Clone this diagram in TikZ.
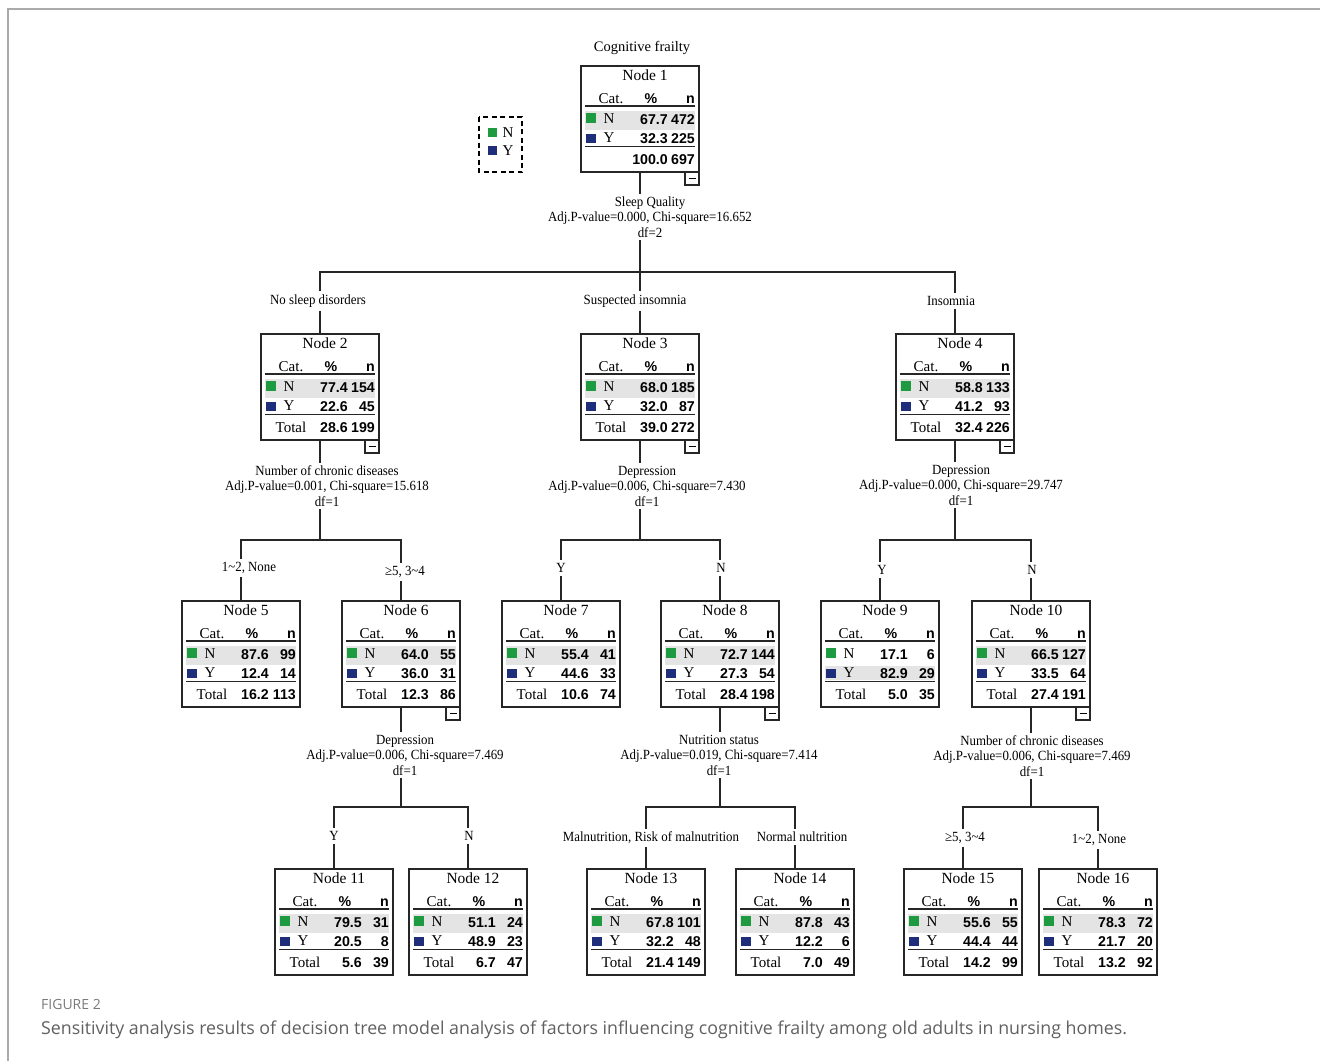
\documentclass[tikz,border=0pt]{standalone}
\usepackage{fontspec}
\setmainfont{Liberation Serif}
\newfontfamily\numfont{Liberation Sans}
\newfontfamily\labfont[FakeStretch=0.92]{Liberation Serif}
\newfontfamily\capfont{Open Sans}
\definecolor{catN}{HTML}{1E9A40}
\definecolor{catY}{HTML}{1F2E7A}
\definecolor{band}{HTML}{E4E4E4}
\definecolor{capgray}{HTML}{606060}
\definecolor{figgray}{HTML}{7A7A7A}
\definecolor{framegray}{HTML}{AAAAAA}
\newif\ifshY
\newif\ifhasminus
\def\totlab{Total}
\newcommand\tnode[9]{%
  \node[tbox] (n#1) at (#2,#3) {};
  \begin{scope}[shift={(#2,#3)}]
    \ifshY \fill[band] (4,64.5) rectangle (114,79);
    \else \fill[band] (4,45) rectangle (114,64); \fi
    \node[ttl] (n#1t) at (64,14) {Node #1};
    \node[ser, anchor=base] (n#1hc) at (30,37) {Cat.};
    \node[num, anchor=base] (n#1hp) at (70,37) {\%};
    \node[num, anchor=base east] (n#1hn) at (114,37) {n};
    \draw[rule] (4,40) -- (114,40);
    \fill[catN] (5,47) rectangle (15,57);
    \fill[catY] (5,67.5) rectangle (15,77);
    \node[ser, anchor=base] (n#1cN) at (28,57) {N};
    \node[num, anchor=base east] (n#1pN) at (87,58.5) {#4};
    \node[num, anchor=base east] (n#1nN) at (114,58.5) {#5};
    \node[ser, anchor=base] (n#1cY) at (28,76.5) {Y};
    \node[num, anchor=base east] (n#1pY) at (87,77.5) {#6};
    \node[num, anchor=base east] (n#1nY) at (114,77.5) {#7};
    \draw[rule] (4,80.5) -- (114,80.5);
    \node[ser, anchor=base] (n#1tl) at (30,98) {\totlab};
    \node[num, anchor=base east] (n#1tp) at (87,98.5) {#8};
    \node[num, anchor=base east] (n#1tn) at (114,98.5) {#9};
    \ifhasminus
      \draw[minusbox] (104,106) rectangle (118,119);
      \draw[line width=1pt] (107.5,112.5) -- (114.5,112.5);
    \fi
  \end{scope}}
\begin{document}
\begin{tikzpicture}[x=1pt,y=-1pt,
  tbox/.style={draw=black!85, line width=1.4pt, anchor=north west, minimum width=118pt, minimum height=106pt, inner sep=0pt, outer sep=0pt},
  ser/.style={font=\fontsize{15}{15}\selectfont, inner sep=0pt},
  ttl/.style={font=\fontsize{15.5}{15.5}\selectfont, inner sep=0pt, anchor=base},
  num/.style={font=\numfont\bfseries\fontsize{14.2}{14.2}\selectfont, inner sep=0pt},
  rule/.style={line width=1.2pt, black!85},
  minusbox/.style={line width=1.1pt, black!85},
  lab/.style={font=\labfont\fontsize{14}{15.5}\selectfont, align=center, inner sep=2.5pt},
  blab/.style={font=\labfont\fontsize{14}{14}\selectfont, inner sep=3pt},
  edge/.style={line width=1.2pt, black!85},
]
\useasboundingbox (0,0) rectangle (1320,1061);
\draw[framegray, line width=2pt] (8,1061) -- (8,9) -- (1320,9);

% title and legend
\node[font=\fontsize{14.5}{14.5}\selectfont, inner sep=0pt] (title) at (642,48) {Cognitive frailty};
\draw[dash pattern=on 5pt off 3.5pt, line width=1.1pt] (479,117) rectangle (522,172);
\fill[catN] (487.5,128) rectangle (496.5,137);
\fill[catY] (487.5,146) rectangle (496.5,155);
\node[ser] (legN) at (508,132.5) {N};
\node[ser] (legY) at (508,150.5) {Y};

% tree nodes
\def\totlab{}\hasminustrue\shYfalse
\tnode{1}{581}{66}{67.7}{472}{32.3}{225}{100.0}{697}
\def\totlab{Total}
\tnode{2}{261}{334}{77.4}{154}{22.6}{45}{28.6}{199}
\tnode{3}{581}{334}{68.0}{185}{32.0}{87}{39.0}{272}
\tnode{4}{896}{334}{58.8}{133}{41.2}{93}{32.4}{226}
\hasminusfalse
\tnode{5}{182}{601}{87.6}{99}{12.4}{14}{16.2}{113}
\hasminustrue
\tnode{6}{342}{601}{64.0}{55}{36.0}{31}{12.3}{86}
\hasminusfalse
\tnode{7}{502}{601}{55.4}{41}{44.6}{33}{10.6}{74}
\hasminustrue
\tnode{8}{661}{601}{72.7}{144}{27.3}{54}{28.4}{198}
\hasminusfalse\shYtrue
\tnode{9}{821}{601}{17.1}{6}{82.9}{29}{5.0}{35}
\shYfalse\hasminustrue
\tnode{10}{972}{601}{66.5}{127}{33.5}{64}{27.4}{191}
\hasminusfalse
\tnode{11}{275}{869}{79.5}{31}{20.5}{8}{5.6}{39}
\tnode{12}{409}{869}{51.1}{24}{48.9}{23}{6.7}{47}
\tnode{13}{587}{869}{67.8}{101}{32.2}{48}{21.4}{149}
\tnode{14}{736}{869}{87.8}{43}{12.2}{6}{7.0}{49}
\tnode{15}{904}{869}{55.6}{55}{44.4}{44}{14.2}{99}
\tnode{16}{1039}{869}{78.3}{72}{21.7}{20}{13.2}{92}

% split labels
\node[lab] (s1) at (650,217) {Sleep Quality\\Adj.P-value=0.000, Chi-square=16.652\\df=2};
\node[lab] (s2) at (327,486) {Number of chronic diseases\\Adj.P-value=0.001, Chi-square=15.618\\df=1};
\node[lab] (s3) at (647,486) {Depression\\Adj.P-value=0.006, Chi-square=7.430\\df=1};
\node[lab] (s4) at (961,485) {Depression\\Adj.P-value=0.000, Chi-square=29.747\\df=1};
\node[lab] (s6) at (405,755) {Depression\\Adj.P-value=0.006, Chi-square=7.469\\df=1};
\node[lab] (s8) at (719,755) {Nutrition status\\Adj.P-value=0.019, Chi-square=7.414\\df=1};
\node[lab] (s10) at (1032,756) {Number of chronic diseases\\Adj.P-value=0.006, Chi-square=7.469\\df=1};

% branch labels
\node[blab] (b2) at (318,301) {No sleep disorders};
\node[blab] (b3) at (635,301) {Suspected insomnia};
\node[blab] (b4) at (951,301) {Insomnia};
\node[blab] (b5) at (249,568) {1\textasciitilde 2, None};
\node[blab] (b6) at (405,572) {≥5, 3\textasciitilde 4};
\node[blab] (b7) at (561,568) {Y};
\node[blab] (b8) at (721,568) {N};
\node[blab] (b9) at (882,570) {Y};
\node[blab] (b10) at (1032,570) {N};
\node[blab] (b11) at (334,836) {Y};
\node[blab] (b12) at (469,836) {N};
\node[blab] (b13) at (651,838) {Malnutrition, Risk of malnutrition};
\node[blab] (b14) at (802,837) {Normal nultrition};
\node[blab] (b15) at (965,838) {≥5, 3\textasciitilde 4};
\node[blab] (b16) at (1099,840) {1\textasciitilde 2, None};

% joints
\coordinate (j1) at (640,272);
\coordinate (j2) at (320,540);
\coordinate (j3) at (640,540);
\coordinate (j4) at (955,540);
\coordinate (j6) at (401,807);
\coordinate (j8) at (720,807);
\coordinate (j10) at (1031,807);

% connectors: parent -> split label -> joint
\foreach \p in {1,2,3,4,6,8,10}{
  \draw[edge] (n\p.south) -- (n\p.south |- s\p.north);
  \draw[edge] (n\p.south |- s\p.south) -- (j\p);
}
% bars
\draw[edge] (n2.north |- b2.north) |- (j1) -| (n4.north |- b4.north);
\draw[edge] (j1) -- (n3.north |- b3.north);
\draw[edge] (n5.north |- b5.north) |- (j2) -| (n6.north |- b6.north);
\draw[edge] (n7.north |- b7.north) |- (j3) -| (n8.north |- b8.north);
\draw[edge] (n9.north |- b9.north) |- (j4) -| (n10.north |- b10.north);
\draw[edge] (n11.north |- b11.north) |- (j6) -| (n12.north |- b12.north);
\draw[edge] (n13.north |- b13.north) |- (j8) -| (n14.north |- b14.north);
\draw[edge] (n15.north |- b15.north) |- (j10) -| (n16.north |- b16.north);
% branch label -> child
\foreach \c in {2,3,4,5,6,7,8,9,10,11,12,13,14,15,16}{
  \draw[edge] (n\c.north |- b\c.south) -- (n\c.north);
}

% caption
\node[anchor=base west, inner sep=0pt, font=\capfont\fontsize{14}{14}\selectfont, text=figgray] (figlab) at (41,1009) {FIGURE 2};
\node[anchor=base west, inner sep=0pt, font=\capfont\fontsize{17.8}{17.8}\selectfont, text=capgray] (caption) at (41,1034) {Sensitivity analysis results of decision tree model analysis of factors influencing cognitive frailty among old adults in nursing homes.};
\end{tikzpicture}
\end{document}
